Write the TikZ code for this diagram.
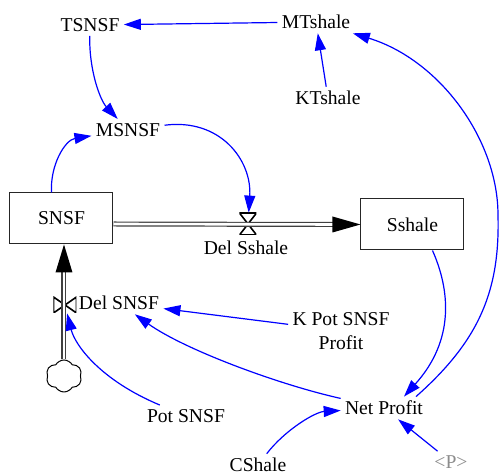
\documentclass[tikz,border=0pt]{standalone}
\usepackage{fontspec}
\setmainfont{Liberation Serif}
\usetikzlibrary{arrows.meta,shapes.symbols,calc}
\tikzstyle{stock} = [rectangle, draw=black!85, line width=0.5pt, minimum width=51.5pt, minimum height=25.5pt, inner sep=0pt]
\tikzstyle{aux} = [inner sep=2pt, align=center]
\tikzstyle{link} = [blue, line width=0.6pt, -{Triangle[length=8.5pt,width=5.5pt]}]
\tikzstyle{pipe} = [draw=black!75, line width=0.6pt, double=white, double distance=1.3pt]
\tikzstyle{valveh} = [inner sep=0pt, minimum width=8.5pt, minimum height=11pt, path picture={\draw[line width=0.8pt] (path picture bounding box.north west) -- (path picture bounding box.south east) -- (path picture bounding box.south west) -- (path picture bounding box.north east) -- cycle;}]
\tikzstyle{valvev} = [inner sep=0pt, minimum width=11.5pt, minimum height=8pt, path picture={\draw[line width=0.8pt] (path picture bounding box.north west) -- (path picture bounding box.south east) -- (path picture bounding box.north east) -- (path picture bounding box.south west) -- cycle;}]
\tikzstyle{source} = [cloud, draw, line width=0.5pt, cloud puffs=6, cloud puff arc=120, minimum width=18pt, minimum height=16pt, inner sep=0pt]

\begin{document}
\begin{tikzpicture}[x=0.5pt, y=-0.5pt, font=\fontsize{9.8}{12}\selectfont]
    \useasboundingbox (0,0) rectangle (500,475);

    %% stocks
    \node[stock] (nsnsf) at (61.5,218.5) {SNSF};
    \node[stock] (nsshale) at (412.5,224.5) {Sshale};
    \node[source] (ncloud) at (64,376) {};

    %% valves
    \node[valveh] (vsshale) at (248,224) {};
    \node[valvev] (vdelsnsf) at (65,305) {};

    %% variables
    \node[aux] (ntsnsf) at (90,25) {TSNSF};
    \node[aux] (nmtshale) at (316,22) {MTshale};
    \node[aux] (nktshale) at (328,98) {KTshale};
    \node[aux] (nmsnsf) at (128,130) {MSNSF};
    \node[aux] (ndelsshale) at (246,248) {Del Sshale};
    \node[aux] (ndelsnsf) at (119,303) {Del SNSF};
    \node[aux] (nkpot) at (341,331) {K Pot SNSF\\Profit};
    \node[aux] (npot) at (186,416) {Pot SNSF};
    \node[aux] (nnet) at (384,408) {Net Profit};
    \node[aux] (ncshale) at (258,465) {CShale};
    \node[aux, text=black!45] (ntime) at (451,462) {<P>};

    %% flows
    \draw[pipe] (nsnsf.east |- vsshale) -- ($(nsshale.west)+(-26,0)$);
    \fill[black] (nsshale.west) -- ++(-28,-8) -- ++(0,16) -- cycle; %% head into Sshale
    \draw[pipe] (ncloud.north) -- ($(ncloud |- nsnsf.south)+(0,26)$);
    \fill[black] (ncloud |- nsnsf.south) -- ++(-8.5,28) -- ++(17,0) -- cycle; %% head into SNSF

    %% links
    \draw[link] (nmtshale) -- (ntsnsf);
    \draw[link] (nktshale) -- (nmtshale);
    \draw[link] (ntsnsf) .. controls (89,70) and (100,100) .. (nmsnsf);
    \draw[link] ([xshift=-5pt]nsnsf.north) .. controls (50,165) and (65,140) .. (nmsnsf);
    \draw[link] (nmsnsf) .. controls (220,118) and (252,160) .. (vsshale);
    \draw[link] ([xshift=10pt]nsshale.south) .. controls (450,290) and (455,340) .. ([xshift=10pt]nnet.north);
    \draw[link] ([xshift=16pt]nnet.north) .. controls (480,340) and (500,290) .. (498,215) .. controls (498,140) and (440,60) .. (nmtshale);
    \draw[link] (nkpot) -- (ndelsnsf);
    \draw[link] (nnet) .. controls (280,385) and (185,350) .. (ndelsnsf);
    \draw[link] (npot) .. controls (100,380) and (75,345) .. (vdelsnsf);
    \draw[link] (ncshale) .. controls (285,430) and (315,412) .. (nnet);
    \draw[link] (ntime) -- (nnet);
\end{tikzpicture}
\end{document}
